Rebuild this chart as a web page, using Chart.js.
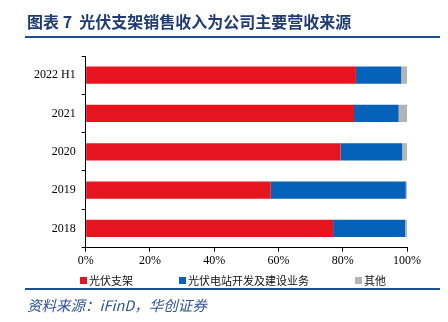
<!DOCTYPE html>
<html><head><meta charset="utf-8">
<script src="https://cdn.jsdelivr.net/npm/chart.js@4/dist/chart.umd.min.js"></script>
<style>
html,body{margin:0;padding:0;background:#fff;width:448px;height:322px;overflow:hidden;}
#wrap{position:relative;width:448px;height:322px;}
canvas{position:absolute;left:0;top:0;}
#title{position:absolute;left:27px;top:10px;font-family:"Noto Sans CJK SC";font-weight:bold;font-size:16px;color:#1F3C73;white-space:nowrap;line-height:22px;}
#tline{position:absolute;left:25px;top:36px;width:415px;height:2px;background:#1F4E8C;}
#bline{position:absolute;left:25px;top:288px;width:415px;height:2px;background:#1F4E8C;}
#source{position:absolute;left:27px;top:295px;font-family:"Noto Sans CJK SC";font-style:italic;font-size:14.5px;color:#2E5496;white-space:nowrap;line-height:20px;}
#legend{position:absolute;left:80px;top:272px;display:flex;font-family:"Noto Sans CJK SC";font-size:11px;color:#111;line-height:16px;}
#legend .it{display:flex;align-items:center;margin-right:46px;}
#legend .bx{width:7px;height:7px;margin-right:2px;}
</style></head>
<body><div id="wrap">
<canvas id="c" width="448" height="322"></canvas>
<div id="title">图表 7&nbsp; 光伏支架销售收入为公司主要营收来源</div>
<div id="tline"></div>
<div id="legend"></div>
<div id="bline"></div>
<div id="source">资料来源：iFinD，华创证券</div>
</div>
<script>
const categories = ['2022 H1','2021','2020','2019','2018'];
const seriesNames = ['光伏支架','光伏电站开发及建设业务','其他'];
const bracketSales = [84.1, 83.5, 79.3, 57.6, 77.0];
const stationSales = [14.1, 13.9, 19.2, 42.0, 22.4];
const otherSales = [1.8, 2.6, 1.5, 0.4, 0.6];
const xTicks = [0, 20, 40, 60, 80, 100];
const colors = ['#E6141E','#0562B8','#B4B4B4'];

const series = [bracketSales, stationSales, otherSales];
const legendEl = document.getElementById('legend');
seriesNames.forEach((n,i)=>{
  const it=document.createElement('div');it.className='it';
  const b=document.createElement('div');b.className='bx';b.style.background=colors[i];
  const t=document.createElement('span');t.textContent=n;
  it.appendChild(b);it.appendChild(t);legendEl.appendChild(it);
});

new Chart(document.getElementById('c'), {
  type:'bar',
  data:{
    labels:categories,
    datasets: series.map((d,i)=>({label:seriesNames[i],data:d,backgroundColor:colors[i],borderWidth:0,categoryPercentage:1,barPercentage:0.45}))
  },
  options:{
    indexAxis:'y',
    responsive:false,
    animation:false,
    layout:{padding:{left:28,right:41,top:56,bottom:52}},
    plugins:{legend:{display:false},tooltip:{enabled:false}},
    scales:{
      x:{
        stacked:true,min:0,max:100,
        afterBuildTicks:(s)=>{s.ticks=xTicks.map(v=>({value:v}));},
        ticks:{callback:v=>v+'%',color:'#000',font:{family:'"Liberation Serif"',size:12},padding:2,maxRotation:0},
        grid:{drawOnChartArea:false,drawTicks:true,tickLength:4,color:'#000'},
        border:{color:'#000',width:1}
      },
      y:{
        stacked:true,
        ticks:{color:'#000',font:{family:'"Liberation Serif"',size:12},padding:6},
        grid:{drawOnChartArea:false,drawTicks:true,tickLength:4,color:'#000',offset:true},
        border:{color:'#000',width:1}
      }
    }
  }
});
</script>
</body></html>
